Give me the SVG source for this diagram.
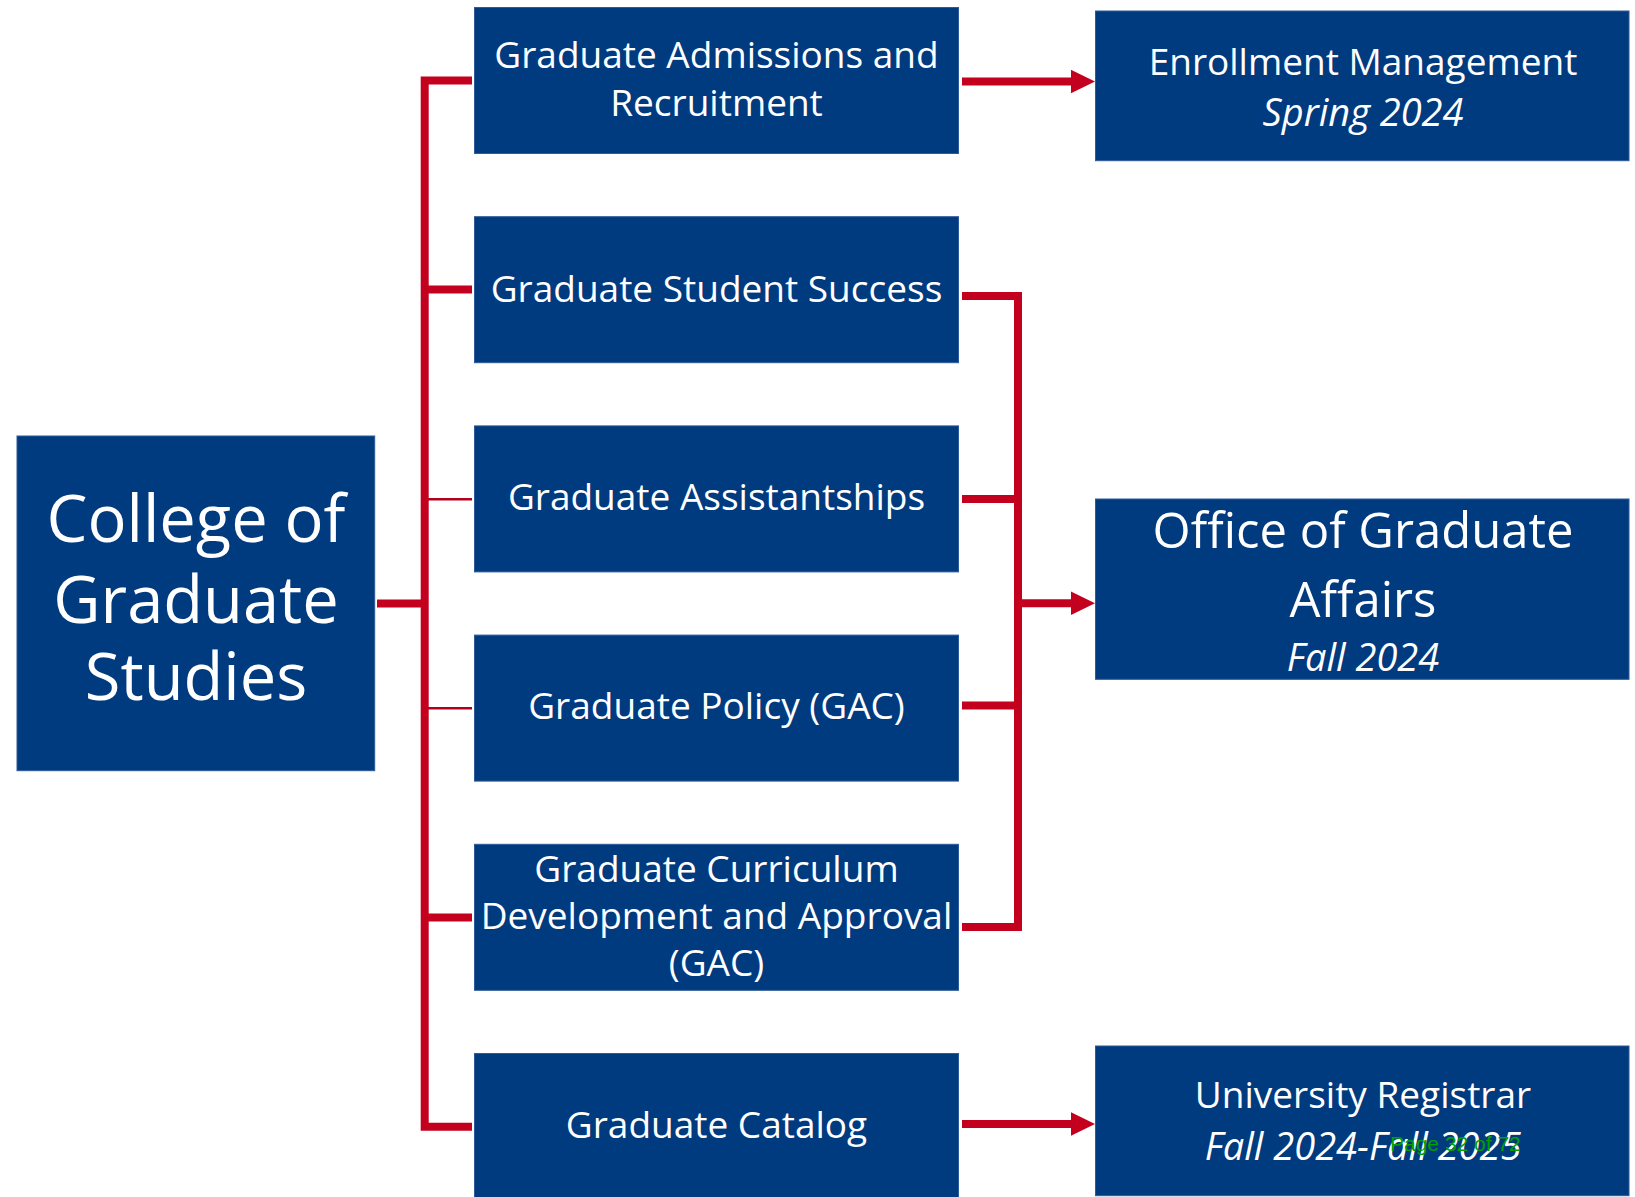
<svg xmlns="http://www.w3.org/2000/svg" width="1635" height="1197" viewBox="0 0 1635 1197">
  <style>
    .box { fill: #003A7F; stroke: #2D5A98; stroke-width: 1; }
    .t { font-family: "Open Sans", "Noto Sans", sans-serif; fill: #FFFFFF; text-anchor: middle; }
    .s { font-size: 37px; }
    .i { font-style: italic; font-size: 38px; }
    .conn { fill: none; stroke: #C3001E; stroke-width: 8; stroke-linejoin: miter; stroke-linecap: butt; }
    .thin { fill: none; stroke: #B0001C; stroke-width: 2.5; }
    .page { font-family: "Liberation Sans", Arial, sans-serif; font-size: 21px; fill: #00A000; }
  </style>
  <defs>
    <marker id="arrow" markerUnits="userSpaceOnUse" markerWidth="24" markerHeight="24" viewBox="0 0 24 24" refX="1" refY="12" orient="auto">
      <path d="M0,0.3 L24,12 L0,23.7 Z" fill="#C3001E"/>
    </marker>
  </defs>
  <rect width="1635" height="1197" fill="#FFFFFF"/>

  <g id="connectors">
    <path class="conn" d="M472,80.5 H424.7 V1126.7 H472"/>
    <path class="conn" d="M424.7,289.5 H472"/>
    <path class="conn" d="M424.7,917.5 H472"/>
    <path class="thin" d="M428,499.3 H472"/>
    <path class="thin" d="M428,708.3 H472"/>
    <path class="conn" d="M377,603.5 H424.7"/>
    <path class="conn" d="M962,81.5 H1072" marker-end="url(#arrow)"/>
    <path class="conn" d="M962,296 H1018 V927 H962"/>
    <path class="conn" d="M962,499 H1018"/>
    <path class="conn" d="M962,705.5 H1018"/>
    <path class="conn" d="M1018,603.3 H1072" marker-end="url(#arrow)"/>
    <path class="conn" d="M962,1124 H1072" marker-end="url(#arrow)"/>
  </g>

  <g id="college">
    <rect class="box" x="17" y="436" width="357.7" height="334.7"/>
    <text class="t" font-size="65" x="196" y="542">College of</text>
    <text class="t" font-size="65" x="196" y="623">Graduate</text>
    <text class="t" font-size="65" x="196" y="700">Studies</text>
  </g>

  <g id="admissions">
    <rect class="box" x="474.5" y="7.5" width="484" height="146"/>
    <text class="t s" x="716.5" y="68.3">Graduate Admissions and</text>
    <text class="t s" x="716.5" y="115.7">Recruitment</text>
  </g>

  <g id="student-success">
    <rect class="box" x="474.5" y="216.7" width="484" height="146"/>
    <text class="t s" x="716.5" y="301.7">Graduate Student Success</text>
  </g>

  <g id="assistantships">
    <rect class="box" x="474.5" y="425.9" width="484" height="146"/>
    <text class="t s" x="716.5" y="510">Graduate Assistantships</text>
  </g>

  <g id="policy">
    <rect class="box" x="474.5" y="635.1" width="484" height="146"/>
    <text class="t s" x="716.5" y="719.3">Graduate Policy (GAC)</text>
  </g>

  <g id="curriculum">
    <rect class="box" x="474.5" y="844.3" width="484" height="146"/>
    <text class="t s" x="716.5" y="881.7">Graduate Curriculum</text>
    <text class="t s" x="716.5" y="929.3">Development and Approval</text>
    <text class="t s" x="716.5" y="976">(GAC)</text>
  </g>

  <g id="catalog">
    <rect class="box" x="474.5" y="1053.5" width="484" height="146"/>
    <text class="t s" x="716.5" y="1138.3">Graduate Catalog</text>
  </g>

  <g id="enrollment">
    <rect class="box" x="1095.5" y="11" width="533.5" height="149.7"/>
    <text class="t s" x="1363" y="75">Enrollment Management</text>
    <text class="t i" x="1363" y="126">Spring 2024</text>
  </g>

  <g id="graduate-affairs">
    <rect class="box" x="1095.5" y="499" width="533.5" height="180.3"/>
    <text class="t" font-size="49" x="1363" y="547.7">Office of Graduate</text>
    <text class="t" font-size="49" x="1363" y="616.7">Affairs</text>
    <text class="t i" x="1363" y="670.7">Fall 2024</text>
  </g>

  <g id="registrar">
    <rect class="box" x="1095.5" y="1046" width="533.5" height="149.7"/>
    <text class="t s" x="1363" y="1108">University Registrar</text>
    <text class="t i" x="1363" y="1160">Fall 2024-Fall 2025</text>
  </g>

  <text class="page" x="1390" y="1150.7">Page 32 of 72</text>
</svg>
